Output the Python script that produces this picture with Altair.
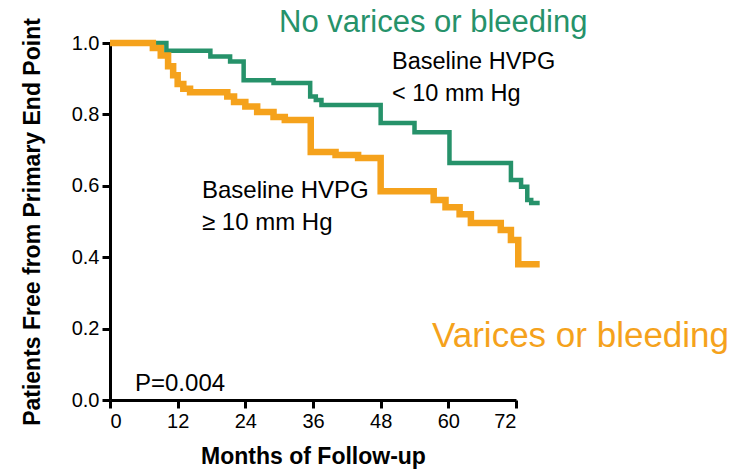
import altair as alt
import pandas as pd

# ---- data ----
green_months = [0, 10, 17.8, 21.3, 23.7, 29, 35.5, 36.5, 37.5, 48, 54, 60.2, 71.1, 72.9, 74.0, 74.7, 76.2]
green_surv   = [1.0, 0.978, 0.962, 0.948, 0.896, 0.888, 0.85, 0.84, 0.826, 0.776, 0.75, 0.664, 0.616, 0.597, 0.56, 0.552, 0.552]

orange_months = [0, 7.6, 9.0, 10.3, 11.2, 12.0, 13.0, 14.2, 20.8, 22.0, 24.0, 26.1, 29.0, 31.0, 35.6, 40.0, 44.0, 48.0,
                 57.4, 59.5, 62.0, 64.0, 69.3, 71.1, 72.4, 76.2]
orange_surv   = [1.0, 0.986, 0.965, 0.935, 0.91, 0.885, 0.872, 0.862, 0.85, 0.835, 0.822, 0.807, 0.793, 0.784, 0.695, 0.686, 0.678, 0.585,
                 0.56, 0.54, 0.52, 0.496, 0.476, 0.448, 0.38, 0.38]

x_ticks = [0, 12, 24, 36, 48, 60, 72]
y_ticks = [0.0, 0.2, 0.4, 0.6, 0.8, 1.0]

title_green = "No varices or bleeding"
title_orange = "Varices or bleeding"
label_low = ["Baseline HVPG", "< 10 mm Hg"]
label_high = ["Baseline HVPG", "\u2265 10 mm Hg"]
p_text = "P=0.004"

GREEN = "#26926a"
ORANGE = "#f5a21c"
FONT = "Liberation Sans"

df = pd.concat([
    pd.DataFrame({"month": green_months, "surv": green_surv, "grp": "low"}),
    pd.DataFrame({"month": orange_months, "surv": orange_surv, "grp": "high"}),
])

xs = alt.Scale(domain=[0, 72], nice=False, zero=False)
ys = alt.Scale(domain=[0, 1], nice=False)

x_axis = alt.Axis(values=x_ticks, title="Months of Follow-up", grid=False, labelFontSize=20,
                  labelFont=FONT, titleFont=FONT, titleFontSize=23, titleFontWeight="bold",
                  titlePadding=14, domainColor="black", domainWidth=3, tickColor="black",
                  tickWidth=3, tickSize=8, labelColor="black", titleColor="black", labelPadding=3)
y_axis = alt.Axis(values=y_ticks, format=".1f", title="Patients Free from Primary End Point", grid=False,
                  labelFontSize=20, labelFont=FONT, titleFont=FONT, titleFontSize=23,
                  titleFontWeight="bold", titlePadding=27, domainColor="black", domainWidth=3,
                  tickColor="black", tickWidth=3, tickSize=8, labelColor="black",
                  titleColor="black", labelPadding=3)

base = alt.Chart(df)

green_line = base.transform_filter(alt.datum.grp == "low").mark_line(
    interpolate="step-after", color=GREEN, strokeWidth=4.5, clip=False
).encode(x=alt.X("month:Q", scale=xs, axis=x_axis), y=alt.Y("surv:Q", scale=ys, axis=y_axis))

orange_line = base.transform_filter(alt.datum.grp == "high").mark_line(
    interpolate="step-after", color=ORANGE, strokeWidth=6.5, clip=False
).encode(x=alt.X("month:Q", scale=xs), y=alt.Y("surv:Q", scale=ys))

one = pd.DataFrame({"a": [0]})


def txt(text, x, y, size, color="black", weight="normal"):
    return alt.Chart(one).mark_text(
        text=text, align="left", baseline="alphabetic", font=FONT, fontSize=size,
        color=color, fontWeight=weight
    ).encode(x=alt.value(x), y=alt.value(y))


texts = [
    txt(title_green, 169, -11, 31, GREEN),
    txt(title_orange, 322, 304, 35, ORANGE),
    txt(label_low[0], 282, 26, 23.5),
    txt(label_low[1], 282, 58, 23.5),
    txt(label_high[0], 92, 155, 24),
    txt(label_high[1], 92, 187, 24),
    txt(p_text, 25, 348, 24),
]

chart = alt.layer(green_line, orange_line, *texts).properties(
    width=406, height=357,
    background="white",
    padding={"left": 110, "top": 43, "right": 222, "bottom": 74},
    autosize=alt.AutoSizeParams(type="none"),
).configure_view(strokeOpacity=0, strokeWidth=0)

chart.save("out.html", embed_options={"renderer": "svg", "actions": False})
